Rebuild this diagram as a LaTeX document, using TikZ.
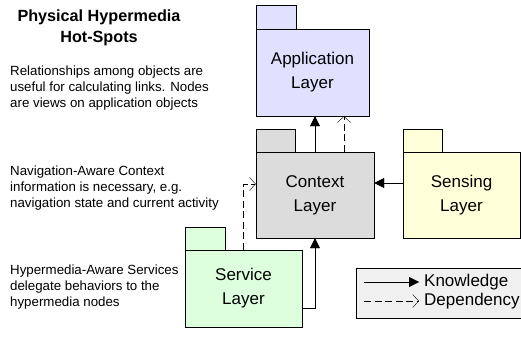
\documentclass[tikz,border=0pt]{standalone}
\usepackage{fontspec}
\setmainfont{Liberation Sans}
\usetikzlibrary{arrows.meta}

\definecolor{appfill}{RGB}{224,224,255}
\definecolor{ctxfill}{RGB}{220,220,220}
\definecolor{senfill}{RGB}{255,255,218}
\definecolor{srvfill}{RGB}{222,255,222}
\definecolor{legfill}{RGB}{240,240,240}

\begin{document}
\begin{tikzpicture}[x=1pt, y=-1pt,
    layer/.style={draw, thin, font=\fontsize{17}{24}\selectfont, align=center, inner sep=0pt},
    note/.style={anchor=west, align=left, inner sep=0pt, font=\fontsize{13.3}{16}\selectfont},
    know/.style={thin, -{Triangle[length=10pt,width=10pt]}},
    depend/.style={thin, dash pattern=on 7pt off 3.5pt, -{Straight Barb[length=6pt,width=13pt]}}]
    \useasboundingbox (0, 0) rectangle (521, 337) ;

    % packages
    \node[layer, fill=appfill, minimum width=113pt, minimum height=87pt] (app) at (312.5, 72.5) {Application\\Layer} ;
    \node[layer, fill=ctxfill, minimum width=118pt, minimum height=86pt] (ctx) at (315, 195) {Context\\Layer} ;
    \node[layer, fill=senfill, minimum width=117pt, minimum height=86pt] (sen) at (461.5, 195) {Sensing\\Layer} ;
    \node[layer, fill=srvfill, minimum width=117pt, minimum height=77pt] (srv) at (243.5, 288.5) {Service\\Layer} ;
    \draw[thin, fill=appfill] (app.north west) rectangle ++ (40, -24) ;
    \draw[thin, fill=ctxfill] (ctx.north west) rectangle ++ (39, -23) ;
    \draw[thin, fill=senfill] (sen.north west) rectangle ++ (39, -23) ;
    \draw[thin, fill=srvfill] (srv.north west) rectangle ++ (40, -23) ;

    % connectors
    \draw[know] (ctx.north) -- (ctx.north |- app.south) ;
    \draw[depend] ([xshift=29pt]ctx.north) -- ([xshift=29pt]ctx.north |- app.south) ;
    \draw[know] ([yshift=12pt]sen.west) -- ([yshift=12pt]ctx.east) ;
    \draw[know] ([yshift=-20pt]srv.east) -| (ctx.south) ;
    \draw[depend] (srv.north) |- ([yshift=11pt]ctx.west) ;

    % notes
    \node[align=center, inner sep=0pt, font=\fontsize{16.2}{21}\selectfont\bfseries] (title) at (99, 27.5) {Physical Hypermedia\\Hot-Spots} ;
    \node[note] (relnote) at (10, 88.5) {Relationships among objects are\\useful for calculating links. Nodes\\are views on application objects} ;
    \node[note] (navnote) at (10, 188) {Navigation-Aware Context\\information is necessary, e.g.\\navigation state and current activity} ;
    \node[note] (srvnote) at (10, 287) {Hypermedia-Aware Services\\delegate behaviors to the\\hypermedia nodes} ;

    % legend
    \draw[thin, fill=legfill] (356, 268) rectangle (521, 318) ;
    \coordinate (kstart) at (364, 282) ;
    \coordinate (kend) at (419, 282) ;
    \coordinate (dstart) at (364, 301) ;
    \coordinate (dend) at (419, 301) ;
    \node[anchor=west, inner sep=0pt, font=\fontsize{17}{20}\selectfont] (klabel) at (424, 282) {Knowledge} ;
    \node[anchor=west, inner sep=0pt, font=\fontsize{17}{20}\selectfont] (dlabel) at (424, 301) {Dependency} ;
    \draw[know] (kstart) -- (kend) ;
    \draw[depend] (dstart) -- (dend) ;
  \end{tikzpicture}
\end{document}
